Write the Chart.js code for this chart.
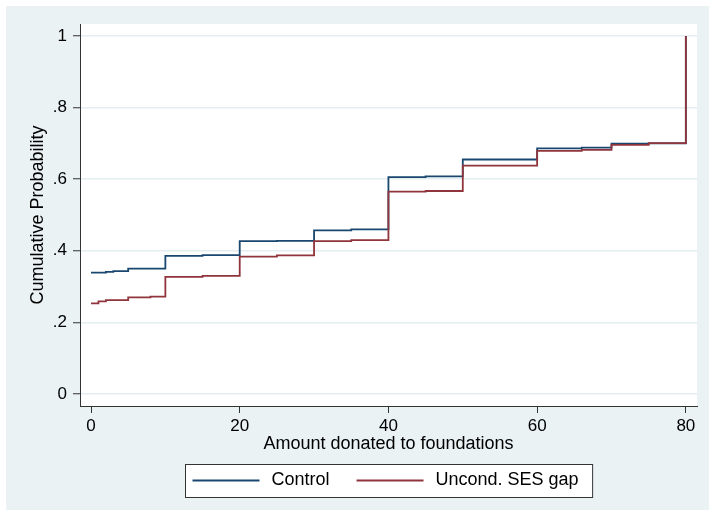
<!DOCTYPE html>
<html>
<head>
<meta charset="utf-8">
<script src="https://cdn.jsdelivr.net/npm/chart.js@4/dist/chart.umd.min.js"></script>
<style>
  html, body { margin: 0; padding: 0; background: #ffffff; }
  #wrap { position: relative; width: 709px; height: 517px; }
  canvas { display: block; }
</style>
</head>
<body>
<div id="wrap"><canvas id="c" width="709" height="517"></canvas></div>
<script>
// ---- data ----
const seriesNames = ["Control", "Uncond. SES gap"];

const controlX = [0, 2, 3, 5, 10, 15, 20, 25, 30, 35, 40, 45, 50, 55, 60, 66, 70, 75, 80];
const controlY = [0.339, 0.341, 0.343, 0.350, 0.386, 0.388, 0.427, 0.428, 0.457, 0.460, 0.606, 0.608, 0.655, 0.655, 0.686, 0.688, 0.699, 0.700, 1.0];

const sesX = [0, 1, 2, 5, 8, 10, 15, 20, 25, 30, 35, 40, 45, 50, 55, 60, 66, 70, 75, 80];
const sesY = [0.253, 0.259, 0.262, 0.270, 0.272, 0.327, 0.330, 0.384, 0.387, 0.427, 0.430, 0.565, 0.567, 0.638, 0.638, 0.679, 0.682, 0.696, 0.701, 1.0];

const xTickValues = [0, 20, 40, 60, 80];
const xTickLabels = ["0", "20", "40", "60", "80"];
const yTickValues = [0, 0.2, 0.4, 0.6, 0.8, 1];
const yTickLabels = ["0", ".2", ".4", ".6", ".8", "1"];

const xTitle = "Amount donated to foundations";
const yTitle = "Cumulative Probability";

// ---- styling ----
const FONT = "'Liberation Sans', Arial, sans-serif";
const PANEL = "#eaf2f3";
const GRID = "#e4edf0";
const colors = ["#1a476f", "#90353b"];

function pts(xs, ys) { return xs.map((x, i) => ({ x: x, y: ys[i] })); }

const backgroundPlugin = {
  id: "panelBg",
  beforeDraw(chart) {
    const ctx = chart.ctx, a = chart.chartArea;
    ctx.save();
    ctx.fillStyle = "#ffffff";
    ctx.fillRect(0, 0, chart.width, chart.height);
    ctx.fillStyle = PANEL;
    ctx.fillRect(6, 6, chart.width - 6, chart.height - 13);
    ctx.fillStyle = "#ffffff";
    ctx.fillRect(a.left, a.top, a.right - a.left, a.bottom - a.top);
    ctx.restore();
  }
};

const legendPlugin = {
  id: "boxLegend",
  afterDraw(chart) {
    const ctx = chart.ctx, a = chart.chartArea;
    const sample = 67, gapText = 12, gapItem = 27, padL = 7, padR = 14;
    ctx.save();
    ctx.font = "18px " + FONT;
    const items = chart.data.datasets.map(ds => ({ label: ds.label, color: ds.borderColor, w: ctx.measureText(ds.label).width }));
    let content = 0;
    items.forEach((it, i) => { content += sample + gapText + it.w + (i < items.length - 1 ? gapItem : 0); });
    const boxW = content + padL + padR;
    const boxTop = 464, boxH = 33;
    const boxLeft = Math.round((a.left + a.right) / 2 - boxW / 2) + 0.5;
    ctx.fillStyle = "#ffffff";
    ctx.fillRect(boxLeft, boxTop + 0.5, boxW, boxH);
    ctx.strokeStyle = "#333333";
    ctx.lineWidth = 1;
    ctx.strokeRect(boxLeft, boxTop + 0.5, boxW, boxH);
    const cy = boxTop + boxH / 2;
    let x = boxLeft + padL;
    items.forEach(it => {
      ctx.strokeStyle = it.color;
      ctx.lineWidth = 1.8;
      ctx.beginPath();
      ctx.moveTo(x, cy);
      ctx.lineTo(x + sample, cy);
      ctx.stroke();
      x += sample + gapText;
      ctx.fillStyle = "#000000";
      ctx.textBaseline = "middle";
      ctx.textAlign = "left";
      ctx.fillText(it.label, x, cy);
      x += it.w + gapItem;
    });
    ctx.restore();
  }
};

new Chart(document.getElementById("c"), {
  type: "line",
  data: {
    datasets: [
      { label: seriesNames[0], data: pts(controlX, controlY), borderColor: colors[0], backgroundColor: colors[0], borderWidth: 1.8, stepped: "before", pointRadius: 0, fill: false, order: 2 },
      { label: seriesNames[1], data: pts(sesX, sesY), borderColor: colors[1], backgroundColor: colors[1], borderWidth: 1.8, stepped: "before", pointRadius: 0, fill: false, order: 1 }
    ]
  },
  options: {
    responsive: false,
    animation: false,
    events: [],
    layout: { padding: { top: 24, right: 12, bottom: 55, left: 0 } },
    plugins: {
      legend: { display: false },
      tooltip: { enabled: false }
    },
    scales: {
      x: {
        type: "linear",
        min: -1.48,
        max: 81.5,
        afterFit(s) { s.height = 56; },
        afterBuildTicks(s) { s.ticks = xTickValues.map(v => ({ value: v })); },
        ticks: {
          color: "#000000",
          font: { family: FONT, size: 17 },
          padding: 3,
          maxRotation: 0,
          autoSkip: false,
          callback(v) { const i = xTickValues.indexOf(v); return i >= 0 ? xTickLabels[i] : ""; }
        },
        grid: { drawOnChartArea: false, drawTicks: true, tickLength: 7, tickColor: "#333333", tickWidth: 1 },
        border: { display: true, color: "#333333", width: 1 },
        title: { display: true, text: xTitle, color: "#000000", font: { family: FONT, size: 18 }, padding: { top: 0, bottom: 7 } }
      },
      y: {
        type: "linear",
        min: -0.0334,
        max: 1.0334,
        afterFit(s) { s.width = 80; },
        afterBuildTicks(s) { s.ticks = yTickValues.map(v => ({ value: v })); },
        ticks: {
          color: "#000000",
          font: { family: FONT, size: 17 },
          padding: 6,
          autoSkip: false,
          callback(v) { const i = yTickValues.findIndex(t => Math.abs(t - v) < 1e-9); return i >= 0 ? yTickLabels[i] : ""; }
        },
        grid: { drawOnChartArea: true, color: GRID, lineWidth: 1.5, drawTicks: true, tickLength: 7, tickColor: "#333333", tickWidth: 1 },
        border: { display: true, color: "#333333", width: 1 },
        title: { display: true, text: yTitle, color: "#000000", font: { family: FONT, size: 18 }, padding: { top: 27, bottom: 0 } }
      }
    }
  },
  plugins: [backgroundPlugin, legendPlugin]
});
</script>
</body>
</html>
